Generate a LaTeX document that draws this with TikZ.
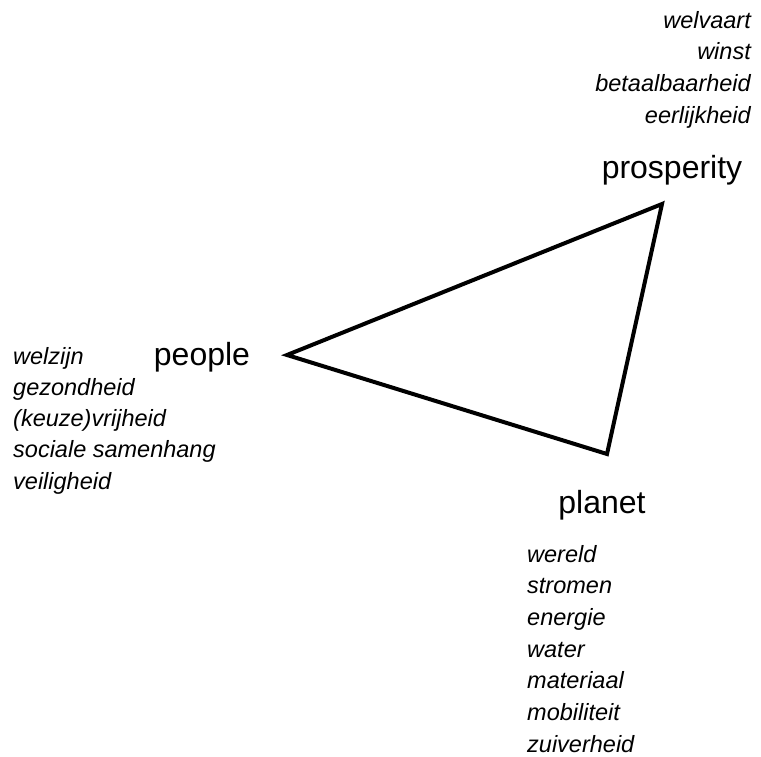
\documentclass[tikz,border=0pt]{standalone}
\usepackage{fontspec}
\setmainfont{Liberation Sans}
\usetikzlibrary{positioning}

\begin{document}
\begin{tikzpicture}[x=1pt,y=-1pt,
  pillar/.style={font=\fontsize{32}{36}\selectfont, inner sep=0pt},
  words/.style={font=\fontsize{23.5}{28}\selectfont\itshape, inner sep=0pt},
  edge/.style={line width=4pt, line join=miter}
]
  \useasboundingbox (0,0) rectangle (761,756);

  % corners of the triangle
  \coordinate (ppl) at (287,355);
  \coordinate (pro) at (662,204);
  \coordinate (pla) at (607,454);

  \draw[edge] (ppl) -- (pro) -- (pla) -- cycle;

  % pillar names
  \node[pillar, anchor=base] (prosperity) at (672,178) {prosperity};
  \node[pillar, anchor=base] (people) at (202,365) {people};
  \node[pillar, anchor=base] (planet) at (602,513) {planet};

  % aspects, one line each
  \foreach \w [count=\i] in {welvaart,winst,betaalbaarheid,eerlijkheid}
    \node[words, anchor=base east] (pro\i) at ({751},{28+31.7*(\i-1)}) {\w};
  \foreach \w [count=\i] in {welzijn,gezondheid,(keuze)vrijheid,sociale samenhang,veiligheid}
    \node[words, anchor=base west] (ppl\i) at ({13},{364+31.3*(\i-1)}) {\w};
  \foreach \w [count=\i] in {wereld,stromen,energie,water,materiaal,mobiliteit,zuiverheid}
    \node[words, anchor=base west] (pla\i) at ({527},{562+31.7*(\i-1)}) {\w};
\end{tikzpicture}
\end{document}
